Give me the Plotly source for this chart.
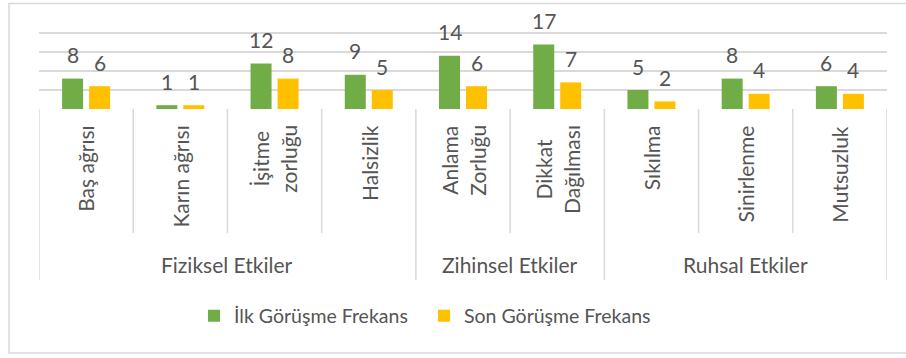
import plotly.graph_objects as go

# Symptom categories, grouped into three effect families
categories = ["Baş ağrısı", "Karın ağrısı", "İşitme<br>zorluğu", "Halsizlik",
              "Anlama<br>Zorluğu", "Dikkat<br>Dağılması",
              "Sıkılma", "Sinirlenme", "Mutsuzluk"]
groups = ["Fiziksel Etkiler", "Zihinsel Etkiler", "Ruhsal Etkiler"]
group_sizes = [4, 2, 3]

ilk_gorusme = [8, 1, 12, 9, 14, 17, 5, 8, 6]
son_gorusme = [6, 1, 8, 5, 6, 7, 2, 4, 4]

series_names = ["İlk Görüşme Frekans", "Son Görüşme Frekans"]
GREEN = "#70AD47"
YELLOW = "#FFC000"
TEXT = "#555555"
GRID = "#D9D9D9"
FONT = "Lato"

fig = go.Figure()
fig.add_bar(x=categories, y=ilk_gorusme, name=series_names[0],
            marker=dict(color=GREEN, line=dict(width=0)))
fig.add_bar(x=categories, y=son_gorusme, name=series_names[1],
            marker=dict(color=YELLOW, line=dict(width=0)))

annotations = []
# value labels above each bar
for i, cat in enumerate(categories):
    for vals, dx in ((ilk_gorusme, -13.5), (son_gorusme, 13.5)):
        annotations.append(dict(
            x=cat, y=vals[i], xref="x", yref="y", text=str(vals[i]),
            showarrow=False, xshift=dx, yshift=24, yanchor="middle",
            font=dict(family=FONT, size=21, color=TEXT)))

# rotated category labels
for cat in categories:
    annotations.append(dict(
        x=cat, y=-0.15, xref="x", yref="paper", text=cat, textangle=-90,
        showarrow=False, yanchor="top", xanchor="center", align="center",
        font=dict(family=FONT, size=21, color=TEXT)))

# group labels and separator lines
shapes = []
start = 0
for g, n in zip(groups, group_sizes):
    center = start + (n - 1) / 2
    annotations.append(dict(
        x=center, y=-1.642, xref="x", yref="paper", text=g,
        showarrow=False, yanchor="middle",
        font=dict(family=FONT, size=21, color=TEXT)))
    shapes.append(dict(type="line", xref="x", yref="paper",
                       x0=start - 0.5, x1=start - 0.5, y0=0, y1=-1.8,
                       line=dict(color=GRID, width=1.5)))
    for k in range(1, n):
        shapes.append(dict(type="line", xref="x", yref="paper",
                           x0=start + k - 0.5, x1=start + k - 0.5, y0=0, y1=-1.305,
                           line=dict(color=GRID, width=1.5)))
    start += n
shapes.append(dict(type="line", xref="x", yref="paper",
                   x0=start - 0.5, x1=start - 0.5, y0=0, y1=-1.8,
                   line=dict(color=GRID, width=1.5)))

# chart frame
shapes.append(dict(type="rect", xref="paper", yref="paper",
                   x0=-0.0354, x1=1.2, y0=-2.568, y1=1.1105,
                   line=dict(color=GRID, width=1.5)))

fig.update_layout(
    width=906, height=358,
    margin=dict(l=39, r=19, t=14, b=249),
    paper_bgcolor="white", plot_bgcolor="white",
    barmode="group", bargap=0.427, bargroupgap=0.222,
    font=dict(family=FONT, size=21, color=TEXT),
    xaxis=dict(range=[-0.5, 8.5], showticklabels=False, showgrid=False,
               zeroline=False, showline=False, ticks=""),
    yaxis=dict(range=[0, 25], tickvals=[0, 5, 10, 15, 20], showticklabels=False,
               showgrid=True, gridcolor=GRID, gridwidth=1.5, zeroline=False,
               showline=False, ticks=""),
    legend=dict(orientation="h", xref="container", yref="container",
                x=194 / 906, xanchor="left", y=1 - 316 / 358, yanchor="middle",
                font=dict(family=FONT, size=19.5, color=TEXT),
                itemclick=False, entrywidth=185),
    annotations=annotations,
    shapes=shapes,
)

fig.write_html("out.html")
